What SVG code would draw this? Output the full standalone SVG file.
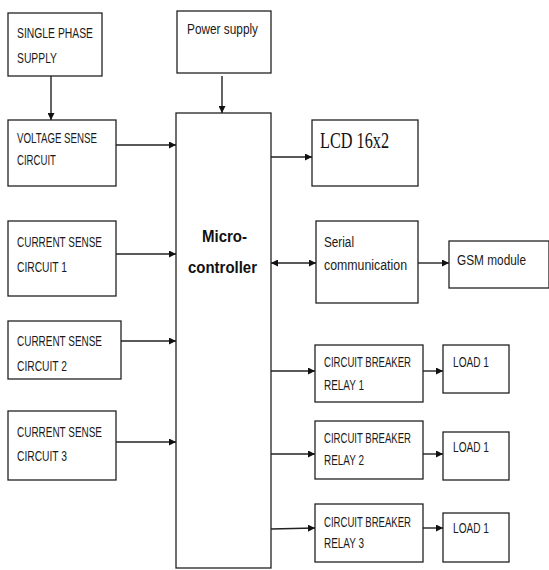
<svg xmlns="http://www.w3.org/2000/svg" width="549" height="570" viewBox="0 0 549 570">
<defs>
<marker id="ah" viewBox="0 0 10 10" refX="10" refY="5" markerWidth="7" markerHeight="7" markerUnits="userSpaceOnUse" orient="auto-start-reverse"><path d="M0,0 L10,5 L0,10 z" fill="#111"/></marker>
</defs>
<style>
.box{fill:#fff;stroke:#222;stroke-width:1.3}
.t{font-family:"Liberation Sans",Arial,sans-serif;font-size:14px;fill:#1a1a1a}
.b{font-family:"Liberation Sans",Arial,sans-serif;font-size:17px;font-weight:bold;fill:#111}
.s{font-family:"Liberation Serif","Times New Roman",serif;font-size:23px;fill:#111}
.c{stroke:#222;stroke-width:1.4;fill:none;marker-end:url(#ah)}
</style>
<rect width="549" height="570" fill="#fff"/>
<g id="single-phase"><rect class="box" x="8" y="13" width="94" height="63"/><text class="t" x="17" y="38" textLength="76" lengthAdjust="spacingAndGlyphs">SINGLE PHASE</text><text class="t" x="17" y="63" textLength="40" lengthAdjust="spacingAndGlyphs">SUPPLY</text></g>
<g id="power-supply"><rect class="box" x="177" y="11" width="94" height="62"/><text class="t" x="187" y="34" textLength="71" lengthAdjust="spacingAndGlyphs">Power supply</text></g>
<g id="voltage-sense"><rect class="box" x="8" y="120" width="108" height="66"/><text class="t" x="17" y="143" textLength="80" lengthAdjust="spacingAndGlyphs">VOLTAGE SENSE</text><text class="t" x="17" y="165" textLength="39" lengthAdjust="spacingAndGlyphs">CIRCUIT</text></g>
<g id="current-sense-1"><rect class="box" x="8" y="221" width="108" height="75"/><text class="t" x="17" y="247" textLength="85" lengthAdjust="spacingAndGlyphs">CURRENT SENSE</text><text class="t" x="17" y="272" textLength="50" lengthAdjust="spacingAndGlyphs">CIRCUIT 1</text></g>
<g id="current-sense-2"><rect class="box" x="8" y="321" width="113" height="58"/><text class="t" x="17" y="346" textLength="85" lengthAdjust="spacingAndGlyphs">CURRENT SENSE</text><text class="t" x="17" y="371" textLength="50" lengthAdjust="spacingAndGlyphs">CIRCUIT 2</text></g>
<g id="current-sense-3"><rect class="box" x="8" y="411" width="108" height="69"/><text class="t" x="17" y="437" textLength="85" lengthAdjust="spacingAndGlyphs">CURRENT SENSE</text><text class="t" x="17" y="461" textLength="50" lengthAdjust="spacingAndGlyphs">CIRCUIT 3</text></g>
<g id="microcontroller"><rect class="box" x="176" y="113" width="95" height="455"/><text class="b" x="202" y="242" textLength="45" lengthAdjust="spacingAndGlyphs">Micro-</text><text class="b" x="188" y="273" textLength="69" lengthAdjust="spacingAndGlyphs">controller</text></g>
<g id="lcd"><rect class="box" x="312" y="120" width="106" height="66"/><text class="s" x="320" y="148" textLength="69" lengthAdjust="spacingAndGlyphs">LCD 16x2</text></g>
<g id="serial"><rect class="box" x="316" y="221" width="102" height="82"/><text class="t" x="324" y="247" textLength="30" lengthAdjust="spacingAndGlyphs">Serial</text><text class="t" x="324" y="270" textLength="83" lengthAdjust="spacingAndGlyphs">communication</text></g>
<g id="gsm"><rect class="box" x="449" y="241" width="100" height="47"/><text class="t" x="457" y="265" textLength="69" lengthAdjust="spacingAndGlyphs">GSM module</text></g>
<g id="relay-1"><rect class="box" x="315" y="345" width="108" height="57"/><text class="t" x="324" y="367" textLength="87" lengthAdjust="spacingAndGlyphs">CIRCUIT BREAKER</text><text class="t" x="324" y="390" textLength="40" lengthAdjust="spacingAndGlyphs">RELAY 1</text></g>
<g id="relay-2"><rect class="box" x="315" y="421" width="108" height="58"/><text class="t" x="324" y="443" textLength="87" lengthAdjust="spacingAndGlyphs">CIRCUIT BREAKER</text><text class="t" x="324" y="465" textLength="40" lengthAdjust="spacingAndGlyphs">RELAY 2</text></g>
<g id="relay-3"><rect class="box" x="315" y="504" width="108" height="58"/><text class="t" x="324" y="527" textLength="87" lengthAdjust="spacingAndGlyphs">CIRCUIT BREAKER</text><text class="t" x="324" y="548" textLength="40" lengthAdjust="spacingAndGlyphs">RELAY 3</text></g>
<g id="load-1"><rect class="box" x="443" y="345" width="66" height="48"/><text class="t" x="453" y="367" textLength="36" lengthAdjust="spacingAndGlyphs">LOAD 1</text></g>
<g id="load-2"><rect class="box" x="443" y="432" width="66" height="48"/><text class="t" x="453" y="452" textLength="36" lengthAdjust="spacingAndGlyphs">LOAD 1</text></g>
<g id="load-3"><rect class="box" x="443" y="513" width="66" height="49"/><text class="t" x="453" y="533" textLength="36" lengthAdjust="spacingAndGlyphs">LOAD 1</text></g>
<g id="connectors">
<line class="c" x1="51" y1="76" x2="51" y2="120"/>
<line class="c" x1="222" y1="76" x2="222" y2="113"/>
<line class="c" x1="116" y1="145" x2="176" y2="145"/>
<line class="c" x1="116" y1="254" x2="176" y2="254"/>
<line class="c" x1="121" y1="341" x2="176" y2="341"/>
<line class="c" x1="116" y1="442" x2="176" y2="442"/>
<line class="c" x1="271" y1="157" x2="312" y2="157"/>
<line class="c" x1="271" y1="263" x2="316" y2="263" marker-start="url(#ah)"/>
<line class="c" x1="418" y1="263" x2="449" y2="263"/>
<line class="c" x1="271" y1="371" x2="315" y2="371"/>
<line class="c" x1="271" y1="454" x2="315" y2="454"/>
<line class="c" x1="271" y1="529" x2="315" y2="528"/>
<line class="c" x1="423" y1="371" x2="443" y2="371"/>
<line class="c" x1="423" y1="454" x2="443" y2="454"/>
<line class="c" x1="423" y1="528" x2="443" y2="528"/>
</g>
</svg>
